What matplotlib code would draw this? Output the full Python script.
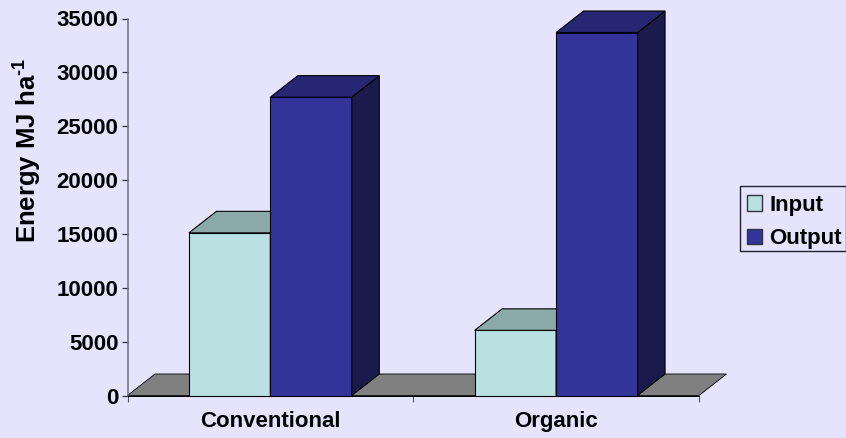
import matplotlib
matplotlib.use("Agg")
import matplotlib.pyplot as plt
from matplotlib.patches import Polygon, Rectangle

plt.rcParams["font.family"] = ["Liberation Sans", "DejaVu Sans"]
plt.rcParams["font.weight"] = "bold"
plt.rcParams["mathtext.fontset"] = "custom"
plt.rcParams["mathtext.bf"] = "Liberation Sans:bold"
plt.rcParams["mathtext.rm"] = "Liberation Sans:bold"

# energiebalans per teelt
teelten = ["Conventional", "Organic"]
input_mj = [15100, 6050]
output_mj = [27700, 33700]
yticks = [0, 5000, 10000, 15000, 20000, 25000, 30000, 35000]

ACHTERGROND = "#E6E4FC"
KLEUR_INPUT = ("#B9E1E2", "#8CA9AA", "#6F8788")   # voor, boven, zij
KLEUR_OUTPUT = ("#333399", "#262673", "#1A1A4D")
VLOER = "#808080"

BREEDTE = 0.285
# diepte van het 3D-effect in data-eenheden
DX = 0.0962
DY = 1996
LW = 0.8


def blok(ax, x, h, kleuren):
    # voorvlak plus bovenkant en zijkant van een balk
    ax.bar(x, h, BREEDTE, color=kleuren[0], edgecolor="black", linewidth=LW,
           clip_on=False, zorder=3)
    l, r = x - BREEDTE / 2, x + BREEDTE / 2
    boven = [(l, h), (r, h), (r + DX, h + DY), (l + DX, h + DY)]
    zij = [(r, 0), (r + DX, DY), (r + DX, h + DY), (r, h)]
    ax.add_patch(Polygon(zij, fc=kleuren[2], ec="black", lw=LW, clip_on=False, zorder=3))
    ax.add_patch(Polygon(boven, fc=kleuren[1], ec="black", lw=LW, clip_on=False, zorder=3))


fig = plt.figure(figsize=(8.46, 4.38), dpi=100, facecolor=ACHTERGROND)
ax = fig.add_axes([127.5 / 846, 1 - 395.5 / 438, 571.5 / 846, 377 / 438])
ax.set_facecolor("none")
ax.set_xlim(0, 2)
ax.set_ylim(0, 35000)

vloer = [(0, 0), (2, 0), (2 + DX, DY), (DX, DY)]
ax.add_patch(Polygon(vloer, fc=VLOER, ec="black", lw=0.6, clip_on=False, zorder=1))

for i in range(len(teelten)):
    blok(ax, i + 0.5 - BREEDTE / 2, input_mj[i], KLEUR_INPUT)
    blok(ax, i + 0.5 + BREEDTE / 2, output_mj[i], KLEUR_OUTPUT)

for kant in ("top", "right"):
    ax.spines[kant].set_visible(False)
ax.spines["left"].set_color("#6E6E80")
ax.spines["left"].set_linewidth(1.1)
ax.spines["bottom"].set_linewidth(0.7)
ax.spines["bottom"].set_zorder(4)

ax.set_yticks(yticks)
ax.tick_params(axis="y", length=4.5, width=0.9, labelsize=16, pad=2, color="#333340")
ax.set_xticks([0, 1, 2], [""] * 3)
ax.tick_params(axis="x", length=4, width=0.8, color="#555560")
ax.set_xticks([0.5, 1.5], teelten, minor=True)
ax.tick_params(axis="x", which="minor", length=0, labelsize=16, pad=11.5)

fig.text(27 / 846, 1 - 150.5 / 438, r"Energy MJ ha$^{\mathbf{\text{-}1}}$", rotation=90,
         ha="center", va="center", fontsize=18.5)

# kader van de legenda apart, zodat het strak om de twee regels past
fig.add_artist(Rectangle((739.5 / 846, 1 - 251 / 438), 106 / 846, 65 / 438,
                         transform=fig.transFigure, fc="none", ec="#222230", lw=1))
vlakken = [Rectangle((0, 0), 1, 1, fc=KLEUR_INPUT[0], ec="#333340", lw=1),
           Rectangle((0, 0), 1, 1, fc=KLEUR_OUTPUT[0], ec="#333340", lw=1)]
fig.legend(vlakken, ["Input", "Output"], loc="upper left",
           bbox_to_anchor=(737.5 / 846, 1 - 185.5 / 438), bbox_transform=fig.transFigure,
           fontsize=16, borderaxespad=0, borderpad=0.42, handlelength=0.68,
           handleheight=0.68, handletextpad=0.33, labelspacing=0.56, frameon=False)

fig.savefig("out.png", dpi=100, facecolor=ACHTERGROND)
